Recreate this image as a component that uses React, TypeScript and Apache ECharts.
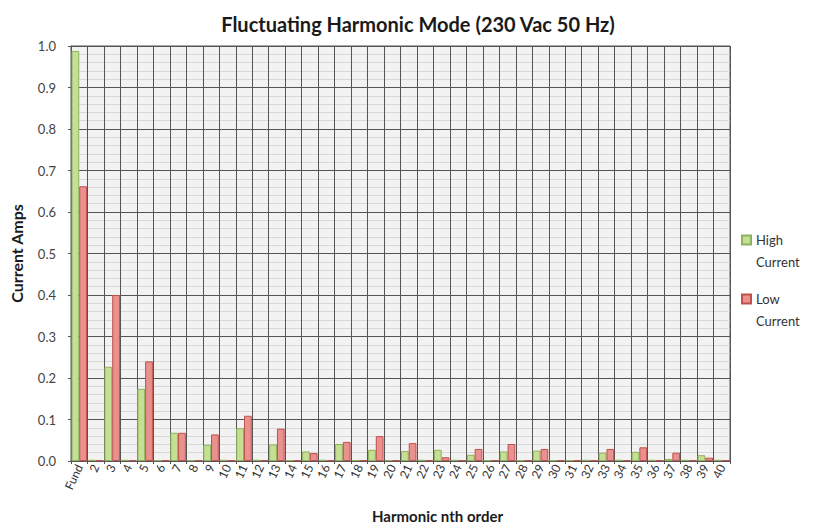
import React, { useEffect, useRef } from "react";
import * as echarts from "echarts";

const categories = ["Fund", "2", "3", "4", "5", "6", "7", "8", "9", "10", "11", "12", "13", "14", "15", "16", "17", "18", "19", "20", "21", "22", "23", "24", "25", "26", "27", "28", "29", "30", "31", "32", "33", "34", "35", "36", "37", "38", "39", "40"];

const highCurrent = [0.988, 0.003, 0.227, 0.003, 0.174, 0.002, 0.068, 0.002, 0.039, 0.003, 0.079, 0.003, 0.040, 0.002, 0.023, 0.003, 0.041, 0.002, 0.027, 0.002, 0.024, 0.003, 0.027, 0.003, 0.015, 0.002, 0.023, 0.002, 0.025, 0.002, 0.002, 0.003, 0.020, 0.003, 0.022, 0.003, 0.005, 0.003, 0.014, 0.003];

const lowCurrent = [0.662, 0.002, 0.400, 0.002, 0.240, 0.002, 0.068, 0.002, 0.064, 0.002, 0.109, 0.002, 0.078, 0.002, 0.019, 0.002, 0.046, 0.002, 0.060, 0.002, 0.043, 0.002, 0.009, 0.002, 0.029, 0.002, 0.041, 0.002, 0.029, 0.002, 0.002, 0.002, 0.029, 0.002, 0.033, 0.002, 0.020, 0.002, 0.008, 0.002];

const seriesNames = ["High Current", "Low Current"];
const titleText = "Fluctuating Harmonic Mode (230 Vac 50 Hz)";
const xName = "Harmonic nth order";
const yName = "Current Amps";

const FONT = "Lato, 'Open Sans', sans-serif";

export default function App() {
  const ref = useRef<HTMLDivElement>(null);
  useEffect(() => {
    document.body.style.margin = "0";
    if (!ref.current) return;
    const chart = echarts.init(ref.current, undefined, { renderer: "svg" });
    chart.setOption({
      animation: false,
      backgroundColor: "#ffffff",
      textStyle: { fontFamily: FONT },
      title: {
        text: titleText,
        left: 413,
        textAlign: "center",
        top: 9,
        textStyle: { fontFamily: FONT, fontSize: 20, fontWeight: "bold", color: "#1a1a1a" },
      },
      legend: {
        orient: "vertical",
        left: 741,
        top: 207,
        padding: 0,
        itemWidth: 9,
        itemHeight: 9,
        itemGap: -7,
        icon: "rect",
        formatter: (name: string) => "\n" + name.replace(" ", "\n"),
        textStyle: {
          fontFamily: FONT,
          fontSize: 13,
          color: "#333",
          lineHeight: 22,
        },
        data: seriesNames,
      },
      grid: {
        left: 65,
        right: 84,
        top: 46,
        bottom: 52,
        show: true,
        backgroundColor: "#f2f2f2",
        borderColor: "#555",
        borderWidth: 1,
      },
      xAxis: {
        type: "category",
        data: categories,
        name: xName,
        nameLocation: "middle",
        nameGap: 47,
        nameTextStyle: {
          fontFamily: FONT,
          fontSize: 15,
          fontWeight: "bold",
          color: "#1a1a1a",
          padding: [0, 0, 0, 74],
        },
        axisLine: { lineStyle: { color: "#555" } },
        axisTick: { show: true, lineStyle: { color: "#555" }, length: 3 },
        splitLine: { show: true, lineStyle: { color: "#555", width: 1 } },
        axisLabel: {
          interval: 0,
          rotate: 65,
          fontFamily: FONT,
          fontSize: 12,
          color: "#333",
          margin: 4,
        },
      },
      yAxis: {
        type: "value",
        min: 0,
        max: 1,
        interval: 0.1,
        name: yName,
        nameLocation: "middle",
        nameGap: 47,
        nameTextStyle: { fontFamily: FONT, fontSize: 16, fontWeight: "bold", color: "#1a1a1a" },
        axisLine: { show: true, lineStyle: { color: "#555" } },
        axisTick: { show: true, lineStyle: { color: "#555" }, length: 3 },
        axisLabel: {
          formatter: (v: number) => v.toFixed(1),
          fontFamily: FONT,
          fontSize: 13,
          color: "#444",
          margin: 15,
        },
        splitLine: { show: true, lineStyle: { color: "#555", width: 1 } },
        minorTick: { show: false, splitNumber: 5 },
        minorSplitLine: { show: true, lineStyle: { color: "#d8d8d8", width: 1 } },
      },
      series: [
        {
          name: seriesNames[0],
          type: "bar",
          data: highCurrent,
          barGap: "0%",
          barCategoryGap: "6%",
          itemStyle: { color: "#c5df95", borderColor: "#8fb35a", borderWidth: 1 },
        },
        {
          name: seriesNames[1],
          type: "bar",
          data: lowCurrent,
          barGap: "0%",
          barCategoryGap: "6%",
          itemStyle: { color: "#e8918f", borderColor: "#c0504d", borderWidth: 1 },
        },
      ],
    });
    return () => chart.dispose();
  }, []);
  return <div ref={ref} style={{ width: 814, height: 528 }} />;
}
